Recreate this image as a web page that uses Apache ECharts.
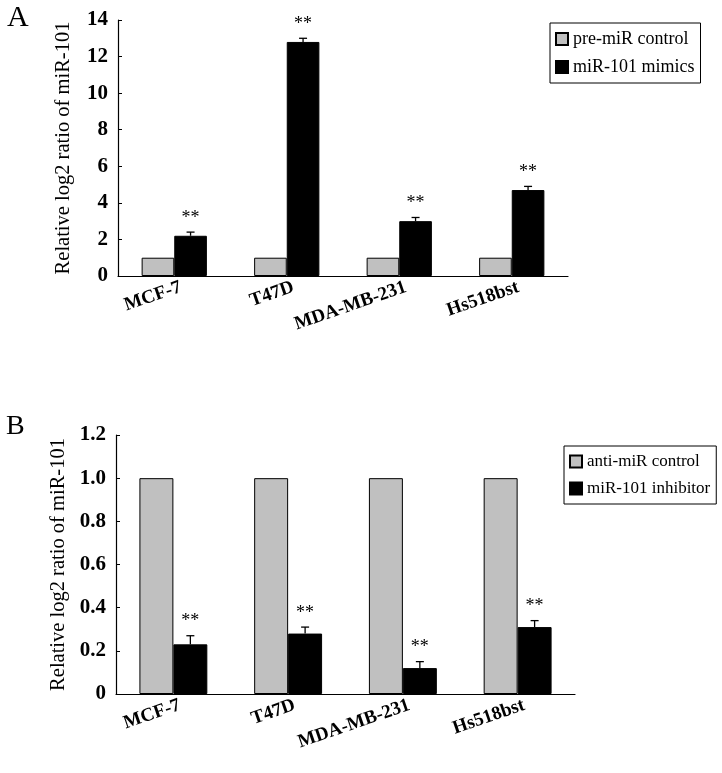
<!DOCTYPE html>
<html>
<head>
<meta charset="utf-8">
<script src="https://cdn.jsdelivr.net/npm/echarts@6/dist/echarts.min.js"></script>
<style>
html,body{margin:0;padding:0;background:#fff;}
#chart{width:722px;height:773px;}
</style>
</head>
<body>
<div id="chart"></div>
<script>
const categories = ['MCF-7', 'T47D', 'MDA-MB-231', 'Hs518bst'];
// Panel A
const controlA = [1, 1, 1, 1];
const mimicsA = [2.2, 12.8, 3.0, 4.7];
const mimicsErrA = [0.2, 0.2, 0.2, 0.2];
const yMaxA = 14, yStepA = 2;
// Panel B
const controlB = [1, 1, 1, 1];
const inhibitorB = [0.23, 0.28, 0.12, 0.31];
const inhibitorErrB = [0.04, 0.03, 0.03, 0.03];
const yMaxB = 1.2, yStepB = 0.2;
const sigLabel = '**';
const yTitle = 'Relative log2 ratio of miR-101';

const SERIF = '"Liberation Serif", "Times New Roman", serif';
const bwA = 0.29, bwB = 0.296;

function errRender(bw) {
  return function (params, api) {
    const i = api.value(0), v = api.value(1), e = api.value(2);
    const band = api.size([1, 0])[0];
    const base = api.coord([i, v]);
    const cx = base[0] + band * bw / 2;
    const top = api.coord([i, v + e])[1];
    return {
      type: 'group',
      children: [
        { type: 'line', shape: { x1: cx, y1: base[1], x2: cx, y2: top }, style: { stroke: '#000', lineWidth: 1.3 } },
        { type: 'line', shape: { x1: cx - 4, y1: top, x2: cx + 4, y2: top }, style: { stroke: '#000', lineWidth: 1.3 } },
        { type: 'text', x: cx, y: top - 5, style: { text: sigLabel, fill: '#000', font: '18px ' + SERIF, textAlign: 'center', textVerticalAlign: 'bottom' } }
      ]
    };
  };
}

const axisLineStyle = { lineStyle: { color: '#000', width: 1.2 } };
function xAxisCfg(gi) {
  return {
    type: 'category', gridIndex: gi, data: categories,
    axisLine: axisLineStyle,
    axisTick: { inside: true, length: 4, lineStyle: { color: '#000' } },
    axisLabel: { rotate: 19, margin: 13, padding: [0, -7, 0, 0], color: '#000', fontFamily: SERIF, fontWeight: 'bold', fontSize: 19, interval: 0 }
  };
}
function yAxisCfg(gi, max, step, fmt) {
  return {
    type: 'value', gridIndex: gi, min: 0, max: max, interval: step,
    name: yTitle, nameLocation: 'middle', nameGap: 44,
    nameTextStyle: { color: '#000', fontFamily: SERIF, fontSize: 20.5 },
    axisLine: Object.assign({ show: true }, axisLineStyle),
    axisTick: { show: true, inside: true, length: 4, lineStyle: { color: '#000' } },
    splitLine: { show: false },
    axisLabel: { margin: 10, color: '#000', fontFamily: SERIF, fontWeight: 'bold', fontSize: 21, formatter: fmt }
  };
}
const barStyleGray = { color: '#c0c0c0', borderColor: '#000', borderWidth: 1 };
const barStyleBlack = { color: '#000', borderColor: '#000', borderWidth: 1 };

const chart = echarts.init(document.getElementById('chart'), null, { renderer: 'canvas' });
chart.setOption({
  backgroundColor: '#fff',
  animation: false,
  textStyle: { fontFamily: SERIF },
  grid: [
    { left: 118, right: 154, top: 20, bottom: 497 },
    { left: 116, right: 147, top: 435, bottom: 79 }
  ],
  xAxis: [xAxisCfg(0), xAxisCfg(1)],
  yAxis: [
    yAxisCfg(0, yMaxA, yStepA, function (v) { return String(Math.round(v)); }),
    yAxisCfg(1, yMaxB, yStepB, function (v) { return v === 0 ? '0' : v.toFixed(1); })
  ],
  legend: [
    {
      data: ['pre-miR control', 'miR-101 mimics'], orient: 'vertical',
      left: 550, top: 23, itemWidth: 12, itemHeight: 12, itemGap: 10,
      padding: [7, 6, 7, 5], borderColor: '#000', borderWidth: 1, borderRadius: 0,
      textStyle: { color: '#000', fontFamily: SERIF, fontSize: 18 }, icon: 'rect'
    },
    {
      data: ['anti-miR control', 'miR-101 inhibitor'], orient: 'vertical',
      left: 564, top: 446, itemWidth: 12, itemHeight: 12, itemGap: 10,
      padding: [7, 6, 7, 5], borderColor: '#000', borderWidth: 1, borderRadius: 0,
      textStyle: { color: '#000', fontFamily: SERIF, fontSize: 17 }, icon: 'rect'
    }
  ],
  graphic: [
    { type: 'text', left: 7, top: 3, style: { text: 'A', font: '30px ' + SERIF, fill: '#000' } },
    { type: 'text', left: 6, top: 413, style: { text: 'B', font: '28px ' + SERIF, fill: '#000' } }
  ],
  series: [
    { name: 'pre-miR control', type: 'bar', xAxisIndex: 0, yAxisIndex: 0, data: controlA, barWidth: (bwA * 100) + '%', barGap: '0%', itemStyle: barStyleGray },
    { name: 'miR-101 mimics', type: 'bar', xAxisIndex: 0, yAxisIndex: 0, data: mimicsA, barWidth: (bwA * 100) + '%', barGap: '0%', itemStyle: barStyleBlack },
    { type: 'custom', xAxisIndex: 0, yAxisIndex: 0, renderItem: errRender(bwA), encode: { x: 0, y: 1 },
      data: mimicsA.map(function (v, i) { return [i, v, mimicsErrA[i]]; }), z: 5 },
    { name: 'anti-miR control', type: 'bar', xAxisIndex: 1, yAxisIndex: 1, data: controlB, barWidth: (bwB * 100) + '%', barGap: '0%', itemStyle: barStyleGray },
    { name: 'miR-101 inhibitor', type: 'bar', xAxisIndex: 1, yAxisIndex: 1, data: inhibitorB, barWidth: (bwB * 100) + '%', barGap: '0%', itemStyle: barStyleBlack },
    { type: 'custom', xAxisIndex: 1, yAxisIndex: 1, renderItem: errRender(bwB), encode: { x: 0, y: 1 },
      data: inhibitorB.map(function (v, i) { return [i, v, inhibitorErrB[i]]; }), z: 5 }
  ]
});
</script>
</body>
</html>
